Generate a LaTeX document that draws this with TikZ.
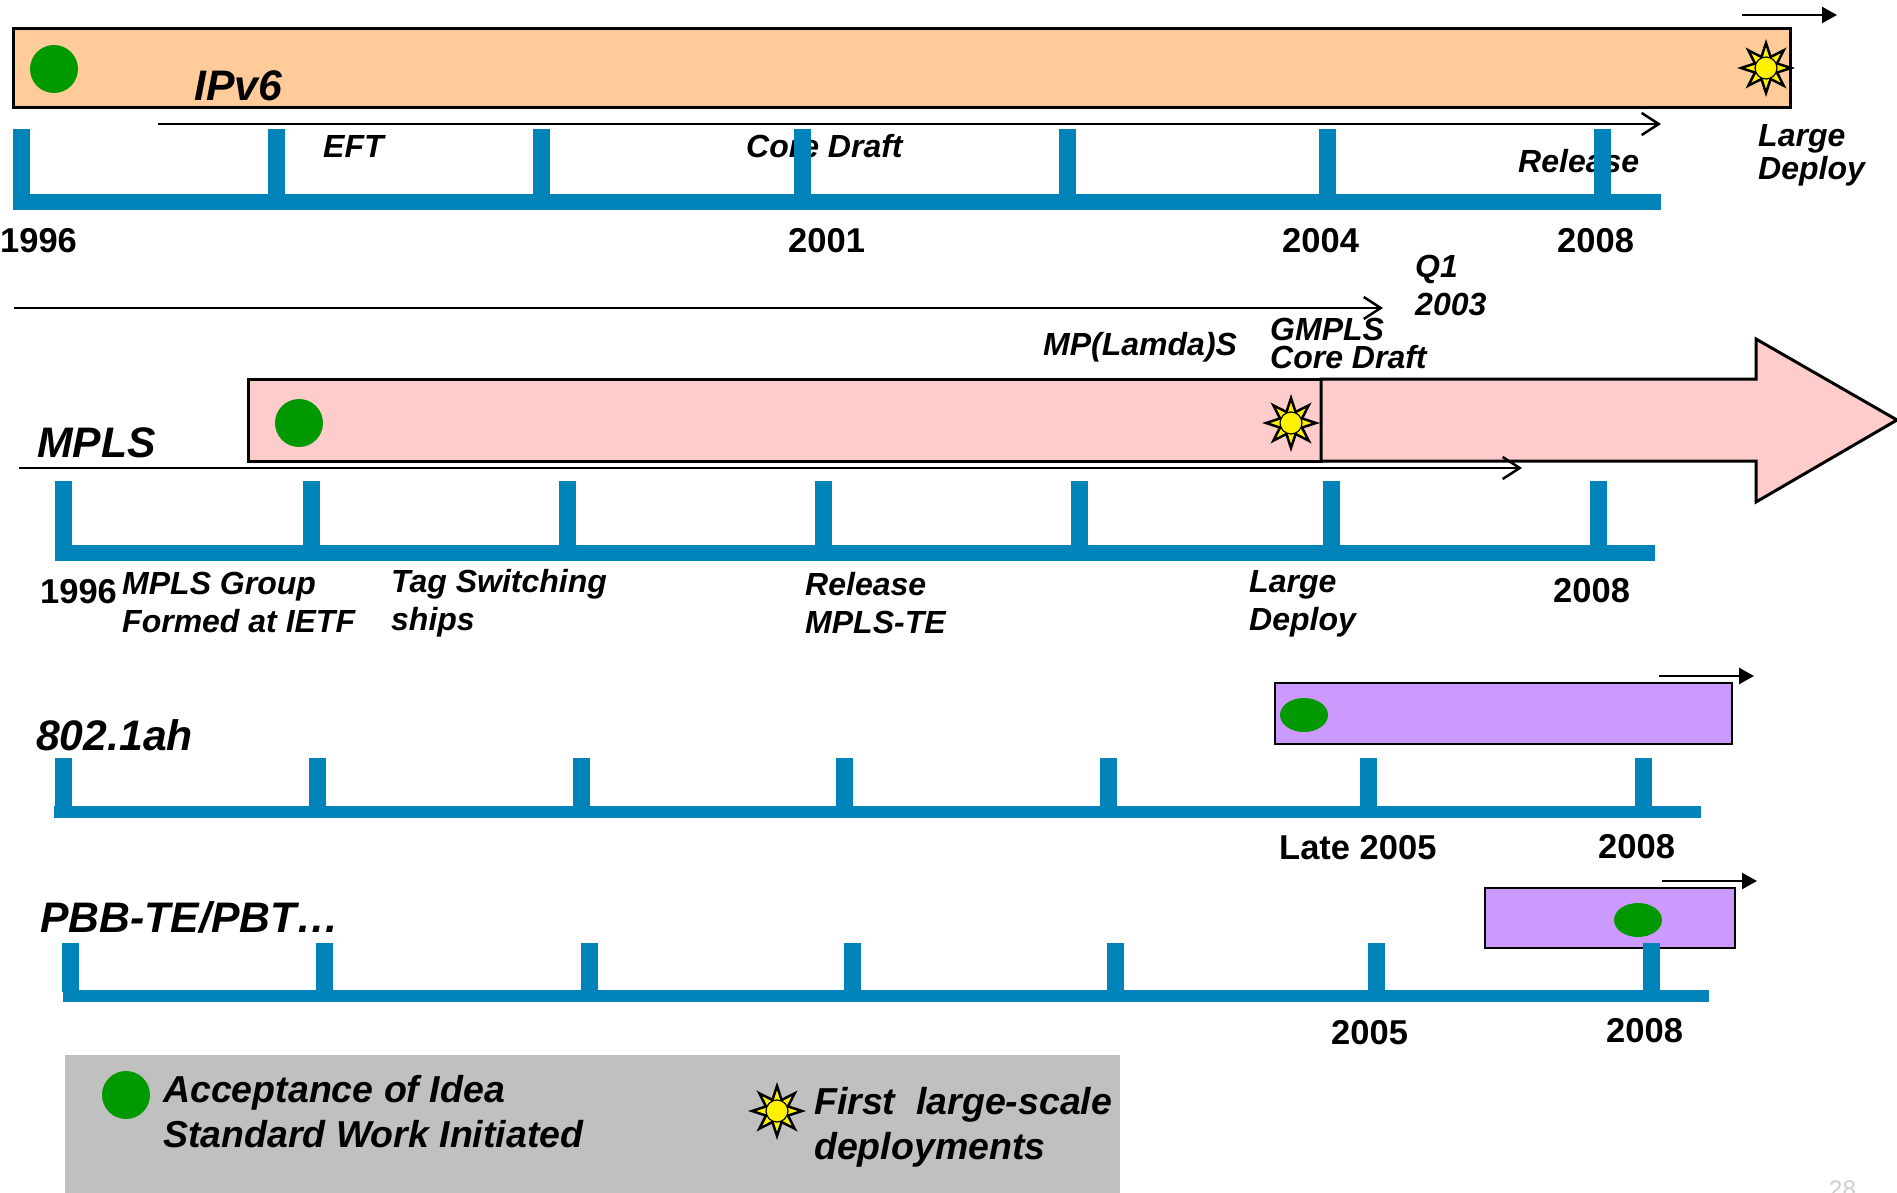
\documentclass[tikz,border=0pt]{standalone}
\usepackage{fontspec}
\setmainfont{Liberation Sans}
\usetikzlibrary{arrows.meta,shapes.geometric}

\definecolor{axisblue}{RGB}{0,131,185}
\definecolor{ipvfill}{RGB}{255,204,153}
\definecolor{mplsfill}{RGB}{255,204,204}
\definecolor{ethfill}{RGB}{204,153,255}
\definecolor{accept}{RGB}{0,153,0}
\definecolor{legendgray}{RGB}{192,192,192}
\definecolor{pagegray}{RGB}{205,205,205}

% two stacked lines whose baseline is the first line
\newcommand\twoline[2]{\vtop{\hbox{#1}\hbox{#2}}}

\begin{document}
\begin{tikzpicture}[x=1pt,y=-1pt,
  bar/.style={draw=black,line width=3pt},
  lbl/.style={anchor=base west,inner sep=0pt,font=\fontsize{32}{38}\selectfont\bfseries\itshape},
  ttl/.style={anchor=base west,inner sep=0pt,font=\fontsize{42.7}{48}\selectfont\bfseries\itshape},
  yr/.style={anchor=base west,inner sep=0pt,font=\fontsize{34.5}{38}\selectfont\bfseries},
  leg/.style={anchor=base west,inner sep=0pt,font=\fontsize{37.5}{45}\selectfont\bfseries\itshape},
  dot/.style={circle,fill=accept,minimum size=48pt,inner sep=0pt},
  edot/.style={ellipse,fill=accept,minimum width=48pt,minimum height=34pt,inner sep=0pt},
  sunstar/.style={star,star points=8,star point ratio=2.1,minimum size=50pt,inner sep=0pt,
                  fill=yellow,draw=black,line width=2.5pt,line join=miter},
  sundisc/.style={circle,fill=yellow,draw=black,line width=1.2pt,minimum size=22pt,inner sep=0pt},
  openarrow/.style={line width=2pt,-{Straight Barb[length=17pt,width=22pt,line width=2.5pt]}},
  fillarrow/.style={line width=2.5pt,-{Triangle[length=15pt,width=16pt]}}]

\useasboundingbox (0,0) rectangle (1897,1193);

% ---------- bars ----------
\draw[bar,fill=ipvfill] (13,29) rectangle (1790,108);
\draw[bar,fill=mplsfill] (248,379) rectangle (1321,461);
\draw[bar,fill=mplsfill,line join=miter]
  (1321,379) -- (1756,379) -- (1756,339) -- (1897,420) -- (1756,502) -- (1756,461) -- (1321,461) -- cycle;
\draw[draw=black,line width=2.5pt,fill=ethfill] (1275,683) rectangle (1732,744);
\draw[draw=black,line width=2.5pt,fill=ethfill] (1485,888) rectangle (1735,948);
\fill[legendgray] (65,1055) rectangle (1120,1200);

% ---------- markers ----------
\node[dot] (ipvdot) at (54,69) {};
\node[sunstar] (ipvstar) at (1766,68) {};
\node[sundisc] (ipvsun) at (ipvstar.center) {};
\node[dot] (mplsdot) at (299,423) {};
\node[sunstar] (mplsstar) at (1291,423) {};
\node[sundisc] (mplssun) at (mplsstar.center) {};
\node[edot] (ahdot) at (1304,715) {};
\node[edot] (pbbdot) at (1638,920) {};

% ---------- trend arrows ----------
\coordinate (ipvtopA) at (1742,15);   \coordinate (ipvtopB) at (1837,15);
\coordinate (ipvlowA) at (158,124);   \coordinate (ipvlowB) at (1661,124);
\coordinate (longA)   at (14,308);    \coordinate (longB)   at (1383,308);
\coordinate (mplsA)   at (19,468);    \coordinate (mplsB)   at (1522,468);
\coordinate (ahA)     at (1659,676);  \coordinate (ahB)     at (1754,676);
\coordinate (pbbA)    at (1662,881);  \coordinate (pbbB)    at (1757,881);
\draw[fillarrow] (ipvtopA) -- (ipvtopB);
\draw[openarrow] (ipvlowA) -- (ipvlowB);
\draw[openarrow] (longA) -- (longB);
\draw[openarrow] (mplsA) -- (mplsB);
\draw[fillarrow] (ahA) -- (ahB);
\draw[fillarrow] (pbbA) -- (pbbB);

% ---------- IPv6 ----------
\node[ttl] (ipv6) at (194,101) {IPv6};
\node[lbl] (eft) at (323,158) {EFT};
\node[lbl] (coredraft) at (746,158) {Core Draft};
\node[lbl] (release) at (1518,173) {Release};
\node[lbl,font=\fontsize{32}{33}\selectfont\bfseries\itshape] (ipvdeploy) at (1758,147) {\twoline{Large}{Deploy}};
\node[yr] (y1996a) at (0,252) {1996};
\node[yr] (y2001a) at (788,252) {2001};
\node[yr] (y2004a) at (1282,252) {2004};
\node[yr] (y2008a) at (1557,252) {2008};
\node[lbl] (q1) at (1415,277) {\twoline{Q1}{2003}};
\node[lbl] (mplambda) at (1043,355) {MP(Lamda)S};
\node[lbl,font=\fontsize{32}{28}\selectfont\bfseries\itshape] (gmpls) at (1270,340) {\twoline{GMPLS}{Core Draft}};

% ---------- MPLS ----------
\node[ttl] (mpls) at (37,457) {MPLS};
\node[yr] (y1996b) at (40,603) {1996};
\node[lbl] (group) at (122,594) {\twoline{MPLS Group}{Formed at IETF}};
\node[lbl] (tagsw) at (391,592) {\twoline{Tag Switching}{ships}};
\node[lbl] (mplste) at (805,595) {\twoline{Release}{MPLS-TE}};
\node[lbl] (mplsdeploy) at (1249,592) {\twoline{Large}{Deploy}};
\node[yr] (y2008b) at (1553,602) {2008};

% ---------- 802.1ah ----------
\node[ttl] (ah) at (36,750) {802.1ah};
\node[yr] (late2005) at (1279,859) {Late 2005};
\node[yr] (y2008c) at (1598,858) {2008};

% ---------- PBB-TE ----------
\node[ttl] (pbb) at (40,932) {PBB-TE/PBT…};
\node[yr] (y2005d) at (1331,1044) {2005};
\node[yr] (y2008d) at (1606,1042) {2008};

% ---------- timeline axes ----------
\fill[axisblue] (13,194) rectangle (1661,210);
\foreach \t in {21.5,276.5,541,802,1067,1327.5,1602.5}
  \fill[axisblue] ({\t-8.5},129) rectangle ({\t+8.5},196);
\fill[axisblue] (55,545) rectangle (1655,561);
\foreach \t in {63.5,311,567,823,1079,1331,1598}
  \fill[axisblue] ({\t-8.5},481) rectangle ({\t+8.5},547);
\fill[axisblue] (54,806) rectangle (1701,818);
\foreach \t in {63,317,581,844,1108,1368,1643.5}
  \fill[axisblue] ({\t-8.5},758) rectangle ({\t+8.5},808);
\fill[axisblue] (63,990) rectangle (1709,1002);
\foreach \t in {70,324,589,852,1115,1376,1651.5}
  \fill[axisblue] ({\t-8.5},943) rectangle ({\t+8.5},992);

% ---------- legend ----------
\node[dot] (legdot) at (126,1095) {};
\node[leg] (legaccept) at (163,1102) {\twoline{Acceptance of Idea}{Standard Work Initiated}};
\node[sunstar] (legstar) at (777,1111) {};
\node[sundisc] (legsun) at (legstar.center) {};
\node[leg] (legfirst) at (814,1114) {\twoline{First\ \ large-scale}{deployments}};

\node[anchor=north west,inner sep=0pt,text=pagegray,font=\fontsize{24}{28}\selectfont] (pagenum) at (1829,1181) {28};
\end{tikzpicture}
\end{document}
